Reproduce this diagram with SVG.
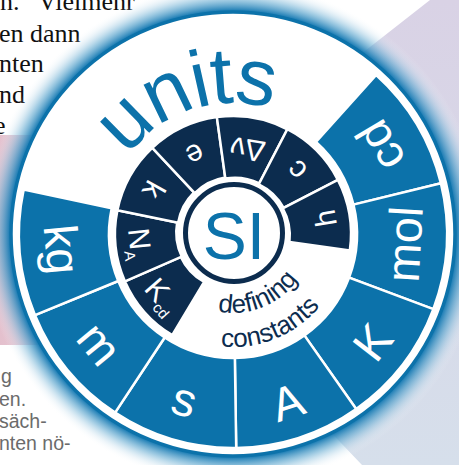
<svg xmlns="http://www.w3.org/2000/svg" width="459" height="465" viewBox="0 0 459 465">
<style>
.u{fill:#0c72aa;stroke:#fff;stroke-width:2.5}
.c{fill:#0c2c4e;stroke:#fff;stroke-width:2.5}
.ul{font-family:"Liberation Sans",Arial,sans-serif;font-size:47px;fill:#fff;text-anchor:middle}
.cl{font-family:"Liberation Sans",Arial,sans-serif;font-size:30px;fill:#fff;text-anchor:middle}
.sub{font-size:15px}
.serif{font-family:"Liberation Serif","Times New Roman",serif;font-size:26px;fill:#111}
.gray{font-family:"Liberation Sans",Arial,sans-serif;font-size:19.5px;fill:#6b6b6b}
</style>
<defs>
<linearGradient id="lav" x1="0" y1="0" x2="0" y2="1"><stop offset="0" stop-color="#d9d2e5"/><stop offset="1" stop-color="#d6dfeb"/></linearGradient>
<linearGradient id="pink" x1="0" y1="0" x2="1" y2="0"><stop offset="0" stop-color="#e4c0cd"/><stop offset="1" stop-color="#ecdce6"/></linearGradient>
<radialGradient id="glow" gradientUnits="userSpaceOnUse" cx="233" cy="234" r="252">
<stop offset="0.87" stop-color="#0c72aa"/>
<stop offset="0.89" stop-color="#1f7fb6" stop-opacity="0.95"/>
<stop offset="0.93" stop-color="#6aaed3" stop-opacity="0.6"/>
<stop offset="0.97" stop-color="#c4deed" stop-opacity="0.25"/>
<stop offset="1" stop-color="#ffffff" stop-opacity="0"/>
</radialGradient>
<clipPath id="outside"><path clip-rule="evenodd" d="M0,0H459V465H0Z M-11,234 a244,244 0 1,0 488,0 a244,244 0 1,0 -488,0Z"/></clipPath>
<path id="useg" d="M214,0 A214,214 0 0 1 176.815,120.551 L102.454,69.852 A124,124 0 0 0 124,0 Z"/>
<path id="cseg" d="M118,0 A118,118 0 0 1 96.316,68.170 L46.526,32.929 A56,56 0 0 0 56,0 Z"/>
<path id="unitsArc" d="M104.63,207.88 A131,131 0 0 1 319.80,135.88"/>
<path id="defArc" d="M189.97,300.26 A79,79 0 0 0 309.98,251.77"/>
<path id="conArc" d="M171.46,328.77 A113,113 0 0 0 343.10,259.42"/>
</defs>

<g id="background">
<rect width="459" height="465" fill="#fff"/>
<polygon points="430,0 459,0 459,465 362,465 300,400 300,100 370,47" fill="url(#lav)"/>
<rect x="0" y="135" width="110" height="210" fill="url(#pink)"/>
<g clip-path="url(#outside)">
<text class="serif" y="10"><tspan x="0">n.</tspan><tspan x="38">Vielmehr</tspan></text>
<text class="serif" x="-1" y="41.5">en dann</text>
<text class="serif" x="-1" y="72">nten</text>
<text class="serif" x="-1" y="103">nd</text>
<text class="serif" x="-6" y="134">e</text>
<text class="gray" x="1" y="383">g</text>
<text class="gray" x="-1" y="406">en.</text>
<text class="gray" x="-1" y="428">säch-</text>
<text class="gray" x="-1" y="450">nten nö-</text>
</g>
<circle cx="233" cy="234" r="252" fill="url(#glow)"/>
<circle cx="233" cy="234" r="222" fill="#fff" stroke="#0c72aa" stroke-width="3.5"/>
</g>

<g id="units-title">
<text font-family="'Liberation Sans',Arial,sans-serif" font-size="80" letter-spacing="-1.5" fill="#0c72aa" text-anchor="middle"><textPath href="#unitsArc" startOffset="50%">units</textPath></text>
</g>

<g id="unit-cd" transform="translate(233,234)"><use href="#useg" class="u" transform="rotate(-48)"/><text class="ul" transform="rotate(-120.857)" y="188">cd</text></g>
<g id="unit-mol" transform="translate(233,234)"><use href="#useg" class="u" transform="rotate(-13.714)"/><text class="ul" transform="rotate(-86.571)" y="188">mol</text></g>
<g id="unit-K" transform="translate(233,234)"><use href="#useg" class="u" transform="rotate(20.571)"/><text class="ul" transform="rotate(-52.286)" y="193">K</text></g>
<g id="unit-A" transform="translate(233,234)"><use href="#useg" class="u" transform="rotate(54.857)"/><text class="ul" transform="rotate(-18)" y="193">A</text></g>
<g id="unit-s" transform="translate(233,234)"><use href="#useg" class="u" transform="rotate(89.143)"/><text class="ul" transform="rotate(16.286)" y="189">s</text></g>
<g id="unit-m" transform="translate(233,234)"><use href="#useg" class="u" transform="rotate(123.429)"/><text class="ul" transform="rotate(50.571)" y="189">m</text></g>
<g id="unit-kg" transform="translate(233,234)"><use href="#useg" class="u" transform="rotate(157.714)"/><text class="ul" transform="rotate(84.857)" y="188">kg</text></g>

<g id="const-Kcd" transform="translate(233,234)"><use href="#cseg" class="c" transform="rotate(121)"/><text class="cl" transform="rotate(48.643)" y="104">K<tspan class="sub" dy="6">cd</tspan></text></g>
<g id="const-NA" transform="translate(233,234)"><use href="#cseg" class="c" transform="rotate(156.286)"/><text class="cl" transform="rotate(83.929)" y="104">N<tspan class="sub" dy="6">A</tspan></text></g>
<g id="const-k" transform="translate(233,234)"><use href="#cseg" class="c" transform="rotate(191.571)"/><text class="cl" transform="rotate(119.214)" y="101">k</text></g>
<g id="const-e" transform="translate(233,234)"><use href="#cseg" class="c" transform="rotate(226.857)"/><text class="cl" transform="rotate(154.5)" y="98">e</text></g>
<g id="const-dnu" transform="translate(233,234)"><use href="#cseg" class="c" transform="rotate(262.143)"/><text class="cl" transform="rotate(189.786)" y="96">Δν</text></g>
<g id="const-c" transform="translate(233,234)"><use href="#cseg" class="c" transform="rotate(297.429)"/><text class="cl" transform="rotate(225.071)" y="100">c</text></g>
<g id="const-h" transform="translate(233,234)"><use href="#cseg" class="c" transform="rotate(332.714)"/><text class="cl" transform="rotate(260.357)" y="104">h</text></g>

<g id="SI">
<circle cx="234" cy="233" r="48.5" fill="#fff" stroke="#0c2c4e" stroke-width="5"/>
<text x="234" y="259" font-family="'Liberation Sans',Arial,sans-serif" font-size="66" fill="#0c72aa" text-anchor="middle">SI</text>
</g>

<g id="defining-constants" font-family="'Liberation Sans',Arial,sans-serif" font-size="26" fill="#0c2c4e" text-anchor="middle">
<text><textPath href="#defArc" startOffset="50%">defining</textPath></text>
<text><textPath href="#conArc" startOffset="50%">constants</textPath></text>
</g>
</svg>
